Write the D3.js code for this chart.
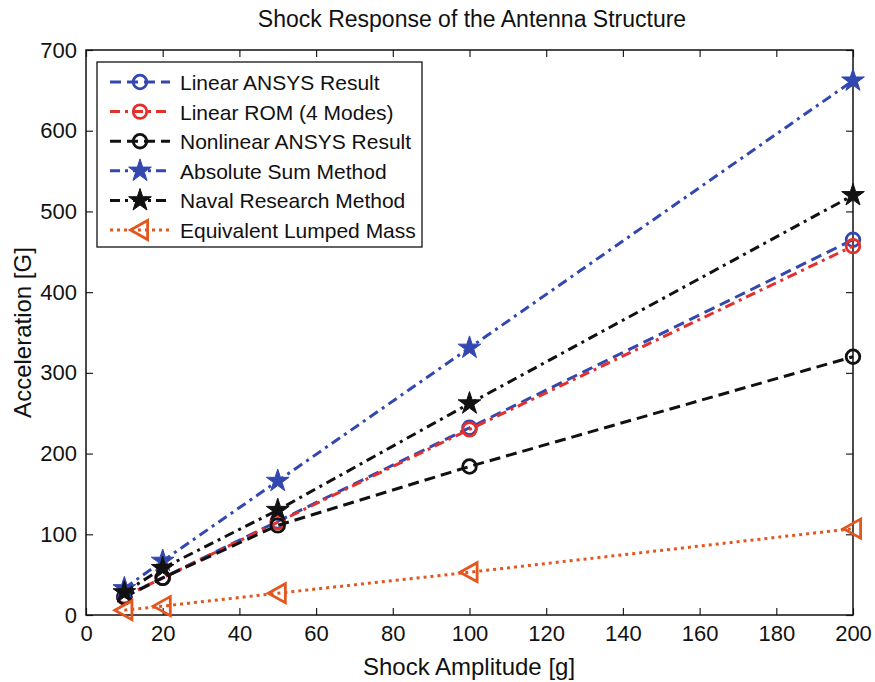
<!DOCTYPE html>
<html>
<head>
<meta charset="utf-8">
<script src="https://cdn.jsdelivr.net/npm/d3@7"></script>
<style>
  body { margin: 0; background: #fff; }
  svg { font-family: "Liberation Sans", Arial, sans-serif; }
</style>
</head>
<body>
<svg id="chart" width="875" height="682"></svg>
<script>
// shock amplitude [g]
var amplitudes = [10, 20, 50, 100, 200];

// acceleration [G] per method
var linearAnsys = [23, 46, 116, 232, 465];
var linearRom = [23, 46, 115, 230, 457];
var nonlinearAnsys = [22, 46, 111, 184, 320];
var absoluteSum = [33, 67, 166, 331, 662];
var navalResearch = [28, 58, 130, 262, 520];
var lumpedMass = [6, 11, 27, 53, 107];

var xTicks = [0, 20, 40, 60, 80, 100, 120, 140, 160, 180, 200];
var yTicks = [0, 100, 200, 300, 400, 500, 600, 700];

var series = [
    {name: "Linear ANSYS Result", values: linearAnsys, color: "#3247b0", dash: "11,6", marker: "circle"},
    {name: "Linear ROM (4 Modes)", values: linearRom, color: "#e3302c", dash: "10,5,3,5", marker: "circle"},
    {name: "Nonlinear ANSYS Result", values: nonlinearAnsys, color: "#111111", dash: "11,6", marker: "circle"},
    {name: "Absolute Sum Method", values: absoluteSum, color: "#3247b0", dash: "10,5,3,5", marker: "star"},
    {name: "Naval Research Method", values: navalResearch, color: "#111111", dash: "10,5,3,5", marker: "star"},
    {name: "Equivalent Lumped Mass", values: lumpedMass, color: "#e2571f", dash: "3,4", marker: "triangle"}
];

var m = {left: 86, right: 853, top: 50, bottom: 615};
var svg = d3.select("#chart");

var x = d3.scaleLinear().domain([0, 200]).range([m.left, m.right]);
var y = d3.scaleLinear().domain([0, 700]).range([m.bottom, m.top]);

// inward ticks on all four sides, matlab style
var tickLen = 7;
svg.append("g").attr("transform", "translate(0," + m.bottom + ")")
    .call(d3.axisBottom(x).tickValues(xTicks).tickSize(-tickLen).tickPadding(10))
    .call(function (g) { g.select(".domain").remove(); });
svg.append("g").attr("transform", "translate(0," + m.top + ")")
    .call(d3.axisTop(x).tickValues(xTicks).tickSize(-tickLen).tickFormat(""))
    .call(function (g) { g.select(".domain").remove(); });
svg.append("g").attr("transform", "translate(" + m.left + ",0)")
    .call(d3.axisLeft(y).tickValues(yTicks).tickSize(-tickLen).tickPadding(9))
    .call(function (g) { g.select(".domain").remove(); });
svg.append("g").attr("transform", "translate(" + m.right + ",0)")
    .call(d3.axisRight(y).tickValues(yTicks).tickSize(-tickLen).tickFormat(""))
    .call(function (g) { g.select(".domain").remove(); });

svg.selectAll(".tick line").attr("stroke", "#222").attr("stroke-width", 1.2);
svg.selectAll(".tick text").attr("font-size", 22).attr("fill", "#111")
    .attr("font-family", "Liberation Sans, Arial, sans-serif");

svg.append("rect")
    .attr("x", m.left).attr("y", m.top)
    .attr("width", m.right - m.left).attr("height", m.bottom - m.top)
    .attr("fill", "none").attr("stroke", "#111").attr("stroke-width", 1.5);

function drawMarker(g, type, cx, cy, color) {
    if (type === "circle") {
        g.append("circle").attr("cx", cx).attr("cy", cy).attr("r", 6.8)
            .attr("fill", "none").attr("stroke", color).attr("stroke-width", 2.8);
    } else if (type === "star") {
        g.append("path")
            .attr("d", d3.symbol().type(d3.symbolStar).size(160)())
            .attr("transform", "translate(" + cx + "," + cy + ")")
            .attr("fill", color).attr("stroke", color).attr("stroke-width", 1);
    } else {
        // left-pointing triangle
        var s = 9.5;
        g.append("path")
            .attr("d", "M" + (cx - s) + "," + cy + "L" + (cx + s * 0.8) + "," + (cy - s) +
                "L" + (cx + s * 0.8) + "," + (cy + s) + "Z")
            .attr("fill", "none").attr("stroke", color).attr("stroke-width", 2.8);
    }
}

var line = d3.line().x(function (d) { return x(d[0]); }).y(function (d) { return y(d[1]); });

series.forEach(function (s) {
    var pts = amplitudes.map(function (a, i) { return [a, s.values[i]]; });
    var g = svg.append("g");
    g.append("path").datum(pts).attr("d", line)
        .attr("fill", "none").attr("stroke", s.color).attr("stroke-width", 3)
        .attr("stroke-dasharray", s.dash);
    pts.forEach(function (p) { drawMarker(g, s.marker, x(p[0]), y(p[1]), s.color); });
});

// legend
var lg = svg.append("g");
lg.append("rect").attr("x", 97).attr("y", 62).attr("width", 325).attr("height", 185)
    .attr("fill", "#fff").attr("stroke", "#111").attr("stroke-width", 1.3);
series.forEach(function (s, i) {
    var ly = 82 + i * 29.6;
    lg.append("line").attr("x1", 110).attr("x2", 170).attr("y1", ly).attr("y2", ly)
        .attr("stroke", s.color).attr("stroke-width", 3).attr("stroke-dasharray", s.dash);
    drawMarker(lg, s.marker, 140, ly, s.color);
    lg.append("text").attr("x", 180).attr("y", ly + 8).attr("font-size", 21)
        .attr("fill", "#111").text(s.name);
});

// titles
svg.append("text").attr("x", 472).attr("y", 27)
    .attr("text-anchor", "middle").attr("font-size", 23).attr("fill", "#111")
    .text("Shock Response of the Antenna Structure");
svg.append("text").attr("x", 469).attr("y", 675)
    .attr("text-anchor", "middle").attr("font-size", 24).attr("fill", "#111")
    .text("Shock Amplitude [g]");
svg.append("text").attr("transform", "translate(31," + ((m.top + m.bottom) / 2) + ") rotate(-90)")
    .attr("text-anchor", "middle").attr("font-size", 24).attr("fill", "#111")
    .text("Acceleration [G]");
</script>
</body>
</html>
